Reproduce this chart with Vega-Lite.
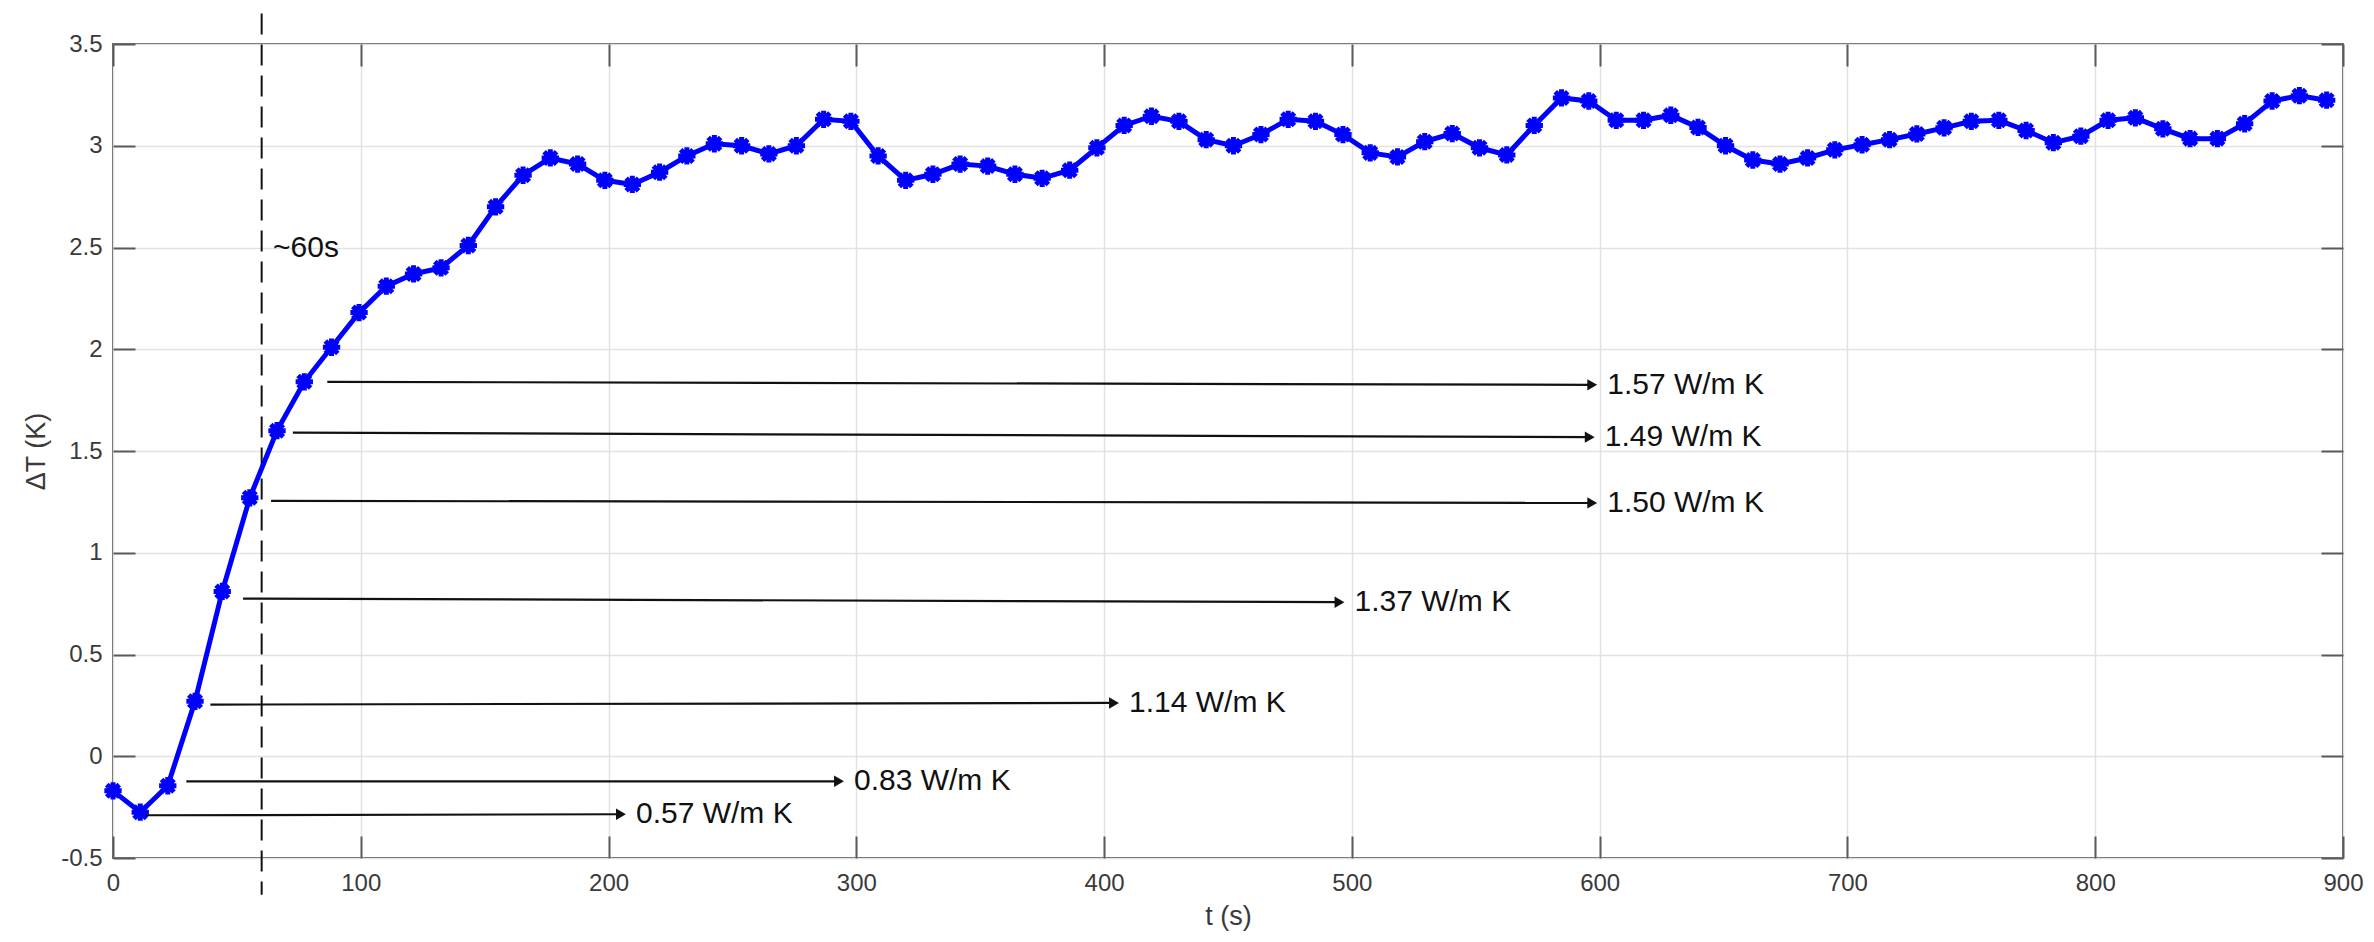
{
  "$schema": "https://vega.github.io/schema/vega-lite/v6.json",
  "width": 2230,
  "height": 814,
  "autosize": {"type": "none"},
  "padding": {"left": 113, "top": 44, "right": 31, "bottom": 84},
  "background": "white",
  "config": {
    "view": {"stroke": "#5a5a5a", "strokeWidth": 2},
    "font": "Liberation Sans",
    "axis": {
      "labelFont": "Liberation Sans",
      "labelFontSize": 24,
      "labelColor": "#3a3a3a",
      "labelFlush": false,
      "titleFont": "Liberation Sans",
      "titleFontSize": 27,
      "titleFontWeight": "normal",
      "titleColor": "#3a3a3a",
      "tickSize": -22,
      "tickColor": "#5a5a5a",
      "tickWidth": 2,
      "domain": false,
      "gridColor": "#e2e2e2",
      "gridWidth": 1.5
    }
  },
  "datasets": {
    "series": [
      {"t": 0, "v": -0.17}, {"t": 11, "v": -0.275}, {"t": 22.1, "v": -0.145}, {"t": 33.1, "v": 0.27},
      {"t": 44.1, "v": 0.81}, {"t": 55.2, "v": 1.27}, {"t": 66.2, "v": 1.6}, {"t": 77.2, "v": 1.84},
      {"t": 88.2, "v": 2.01}, {"t": 99.3, "v": 2.18}, {"t": 110.3, "v": 2.31}, {"t": 121.3, "v": 2.37},
      {"t": 132.4, "v": 2.4}, {"t": 143.4, "v": 2.51}, {"t": 154.4, "v": 2.7}, {"t": 165.5, "v": 2.855},
      {"t": 176.5, "v": 2.94}, {"t": 187.5, "v": 2.91}, {"t": 198.5, "v": 2.83}, {"t": 209.6, "v": 2.81},
      {"t": 220.6, "v": 2.87}, {"t": 231.6, "v": 2.95}, {"t": 242.7, "v": 3.01}, {"t": 253.7, "v": 3.0},
      {"t": 264.7, "v": 2.96}, {"t": 275.8, "v": 3.0}, {"t": 286.8, "v": 3.13}, {"t": 297.8, "v": 3.12},
      {"t": 308.8, "v": 2.95}, {"t": 319.9, "v": 2.83}, {"t": 330.9, "v": 2.86}, {"t": 341.9, "v": 2.91},
      {"t": 353, "v": 2.9}, {"t": 364, "v": 2.86}, {"t": 375, "v": 2.84}, {"t": 386.1, "v": 2.88},
      {"t": 397.1, "v": 2.99}, {"t": 408.1, "v": 3.1}, {"t": 419.1, "v": 3.145}, {"t": 430.2, "v": 3.12},
      {"t": 441.2, "v": 3.03}, {"t": 452.2, "v": 3.0}, {"t": 463.3, "v": 3.055}, {"t": 474.3, "v": 3.13},
      {"t": 485.3, "v": 3.12}, {"t": 496.4, "v": 3.055}, {"t": 507.4, "v": 2.965}, {"t": 518.4, "v": 2.945},
      {"t": 529.4, "v": 3.02}, {"t": 540.5, "v": 3.06}, {"t": 551.5, "v": 2.99}, {"t": 562.5, "v": 2.955},
      {"t": 573.6, "v": 3.1}, {"t": 584.6, "v": 3.235}, {"t": 595.6, "v": 3.22}, {"t": 606.7, "v": 3.125},
      {"t": 617.7, "v": 3.125}, {"t": 628.7, "v": 3.15}, {"t": 639.7, "v": 3.09}, {"t": 650.8, "v": 3.0},
      {"t": 661.8, "v": 2.93}, {"t": 672.8, "v": 2.91}, {"t": 683.9, "v": 2.94}, {"t": 694.9, "v": 2.98},
      {"t": 705.9, "v": 3.005}, {"t": 717, "v": 3.03}, {"t": 728, "v": 3.058}, {"t": 739, "v": 3.088},
      {"t": 750, "v": 3.12}, {"t": 761.1, "v": 3.125}, {"t": 772.1, "v": 3.075}, {"t": 783.1, "v": 3.015},
      {"t": 794.2, "v": 3.047}, {"t": 805.2, "v": 3.125}, {"t": 816.2, "v": 3.137}, {"t": 827.3, "v": 3.083},
      {"t": 838.3, "v": 3.035}, {"t": 849.3, "v": 3.035}, {"t": 860.3, "v": 3.108}, {"t": 871.4, "v": 3.22},
      {"t": 882.4, "v": 3.246}, {"t": 893.4, "v": 3.224}
    ],
    "arrows": [
      {"t1": 86.5, "v1": 1.84, "t2": 597, "v2": 1.825, "label": "1.57 W/m K"},
      {"t1": 72.6, "v1": 1.59, "t2": 596, "v2": 1.568, "label": "1.49 W/m K"},
      {"t1": 63.8, "v1": 1.255, "t2": 597, "v2": 1.245, "label": "1.50 W/m K"},
      {"t1": 52.5, "v1": 0.775, "t2": 495, "v2": 0.757, "label": "1.37 W/m K"},
      {"t1": 39.3, "v1": 0.254, "t2": 404, "v2": 0.262, "label": "1.14 W/m K"},
      {"t1": 29.6, "v1": -0.123, "t2": 293, "v2": -0.123, "label": "0.83 W/m K"},
      {"t1": 13.1, "v1": -0.29, "t2": 205, "v2": -0.285, "label": "0.57 W/m K"}
    ],
    "vline": [{"t": 60, "y1": 3.65, "y2": -0.68}],
    "notes": [{"t": 64.6, "v": 2.5, "label": "~60s"}]
  },
  "layer": [
    {
      "data": {"name": "vline"},
      "mark": {"type": "rule", "color": "#111111", "strokeWidth": 2, "strokeDash": [21, 10]},
      "encoding": {
        "x": {"field": "t", "type": "quantitative", "scale": {"domain": [0, 900], "nice": false, "zero": false},
          "axis": {"values": [0, 100, 200, 300, 400, 500, 600, 700, 800, 900], "title": "t (s)", "grid": true, "labelPadding": 35, "titlePadding": 8, "orient": "bottom"}},
        "y": {"field": "y1", "type": "quantitative", "scale": {"domain": [-0.5, 3.5], "nice": false, "zero": false},
          "axis": {"values": [-0.5, 0, 0.5, 1, 1.5, 2, 2.5, 3, 3.5], "title": "ΔT (K)", "grid": true, "labelPadding": 33, "titlePadding": 10, "orient": "left", "format": "~g", "labelExpr": "replace(datum.label, '−', '-')"}},
        "y2": {"field": "y2"}
      }
    },
    {
      "data": {"name": "series"},
      "mark": {"type": "line", "color": "#0000ff", "strokeWidth": 5},
      "encoding": {
        "x": {"field": "t", "type": "quantitative", "scale": {"domain": [0, 900], "nice": false, "zero": false},
          "axis": {"values": [0, 100, 200, 300, 400, 500, 600, 700, 800, 900], "labels": false, "title": null, "grid": false, "orient": "top"}},
        "y": {"field": "v", "type": "quantitative", "scale": {"domain": [-0.5, 3.5], "nice": false, "zero": false},
          "axis": {"values": [-0.5, 0, 0.5, 1, 1.5, 2, 2.5, 3, 3.5], "labels": false, "title": null, "grid": false, "orient": "right"}}
      }
    },
    {
      "data": {"name": "series"},
      "mark": {"type": "point", "shape": "M-1,0H1M0,-1V1M-0.72,-0.72L0.72,0.72M-0.72,0.72L0.72,-0.72", "filled": false, "stroke": "#0000ff", "strokeWidth": 5, "size": 300, "opacity": 1},
      "encoding": {
        "x": {"field": "t", "type": "quantitative", "scale": {"domain": [0, 900], "nice": false, "zero": false}, "axis": null},
        "y": {"field": "v", "type": "quantitative", "scale": {"domain": [-0.5, 3.5], "nice": false, "zero": false}, "axis": null}
      }
    },
    {
      "data": {"name": "arrows"},
      "mark": {"type": "rule", "color": "#111111", "strokeWidth": 2.2},
      "encoding": {
        "x": {"field": "t1", "type": "quantitative", "scale": {"domain": [0, 900], "nice": false, "zero": false}, "axis": null},
        "y": {"field": "v1", "type": "quantitative", "scale": {"domain": [-0.5, 3.5], "nice": false, "zero": false}, "axis": null},
        "x2": {"field": "t2"},
        "y2": {"field": "v2"}
      }
    },
    {
      "data": {"name": "arrows"},
      "mark": {"type": "point", "shape": "triangle-right", "filled": true, "color": "#111111", "size": 130, "opacity": 1},
      "encoding": {
        "x": {"field": "t2", "type": "quantitative", "scale": {"domain": [0, 900], "nice": false, "zero": false}, "axis": null},
        "y": {"field": "v2", "type": "quantitative", "scale": {"domain": [-0.5, 3.5], "nice": false, "zero": false}, "axis": null}
      }
    },
    {
      "data": {"name": "arrows"},
      "mark": {"type": "text", "align": "left", "baseline": "middle", "dx": 15, "fontSize": 30, "font": "Liberation Sans", "color": "#111111"},
      "encoding": {
        "x": {"field": "t2", "type": "quantitative", "scale": {"domain": [0, 900], "nice": false, "zero": false}, "axis": null},
        "y": {"field": "v2", "type": "quantitative", "scale": {"domain": [-0.5, 3.5], "nice": false, "zero": false}, "axis": null},
        "text": {"field": "label"}
      }
    },
    {
      "data": {"name": "notes"},
      "mark": {"type": "text", "align": "left", "baseline": "middle", "fontSize": 30, "font": "Liberation Sans", "color": "#111111"},
      "encoding": {
        "x": {"field": "t", "type": "quantitative", "scale": {"domain": [0, 900], "nice": false, "zero": false}, "axis": null},
        "y": {"field": "v", "type": "quantitative", "scale": {"domain": [-0.5, 3.5], "nice": false, "zero": false}, "axis": null},
        "text": {"field": "label"}
      }
    }
  ],
  "resolve": {"axis": {"x": "independent", "y": "independent"}}
}
